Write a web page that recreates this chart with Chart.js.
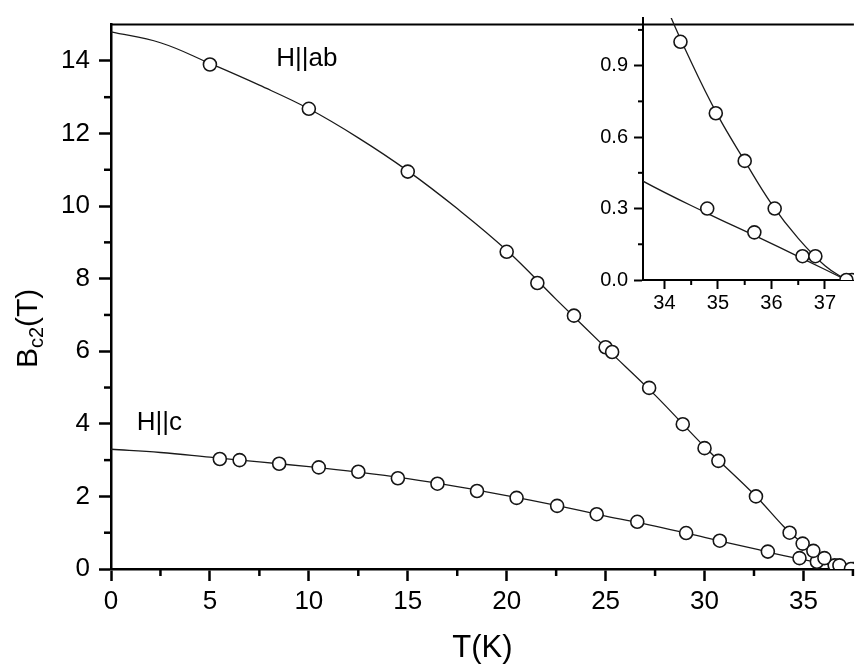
<!DOCTYPE html>
<html><head><meta charset="utf-8">
<script src="https://cdn.jsdelivr.net/npm/chart.js@4/dist/chart.umd.min.js"></script>
<style>
html,body{margin:0;padding:0;background:#fff;}
#wrap{position:relative;width:862px;height:668px;overflow:hidden;background:#fff;}
#main{position:absolute;left:0;top:0;}
#inset{position:absolute;left:560px;top:0;}
</style></head><body>
<div id="wrap"><canvas id="main" width="862" height="668"></canvas><canvas id="inset" width="302" height="330"></canvas></div>
<script>
// ---- data ----
const abT = [5, 10, 15, 20, 21.55, 23.4, 25, 25.33, 27.2, 28.9, 30, 30.7, 32.6, 34.3, 34.96, 35.5, 36.06, 36.82, 37.4];
const abB = [13.9, 12.68, 10.95, 8.74, 7.88, 6.98, 6.11, 5.98, 4.99, 3.99, 3.33, 2.98, 2.0, 1.0, 0.7, 0.5, 0.3, 0.1, 0.0];
const cT = [5.5, 6.5, 8.5, 10.5, 12.5, 14.5, 16.5, 18.5, 20.5, 22.55, 24.55, 26.6, 29.07, 30.77, 33.2, 34.8, 35.68, 36.58, 37.5];
const cB = [3.03, 3.0, 2.9, 2.8, 2.68, 2.5, 2.35, 2.15, 1.96, 1.74, 1.51, 1.3, 0.99, 0.78, 0.48, 0.3, 0.2, 0.1, 0.0];
// fitted curves
const abFitT = [0, 2.5, 5, 7.5, 10, 12.5, 15, 17.5, 20, 22.5, 25, 27.5, 30, 32.5, 34, 34.5, 35, 35.5, 36, 36.5, 37, 37.4];
const abFitB = [14.8, 14.5, 13.93, 13.33, 12.68, 11.88, 10.97, 9.93, 8.78, 7.43, 6.1, 4.79, 3.37, 2.06, 1.17, 0.915, 0.69, 0.5, 0.32, 0.175, 0.06, 0.0];
const cFitT = [0, 2.5, 5, 7.5, 10, 12.5, 15, 17.5, 20, 22.5, 25, 27.5, 30, 32.5, 33.6, 34.8, 35.7, 36.6, 37.4];
const cFitB = [3.3, 3.21, 3.08, 2.95, 2.82, 2.67, 2.49, 2.27, 2.02, 1.75, 1.46, 1.18, 0.87, 0.56, 0.415, 0.28, 0.185, 0.088, 0.0];
// ticks
const xMajor = [0, 5, 10, 15, 20, 25, 30, 35];
const xMinor = [2.5, 7.5, 12.5, 17.5, 22.5, 27.5, 32.5, 37.5];
const yMajor = [0, 2, 4, 6, 8, 10, 12, 14];
const yMinor = [1, 3, 5, 7, 9, 11, 13];
const insetXMajor = [34, 35, 36, 37];
const insetXMinor = [34.5, 35.5, 36.5];
const insetYMajor = [0, 0.3, 0.6, 0.9];
const insetYMinor = [0.15, 0.45, 0.75, 1.05];
// text labels
const labelText = ['H||ab', 'H||c'];
const labelT = [9.9, 2.45];
const labelB = [14.06, 4.03];

const FONT = '"Liberation Sans", Arial, Helvetica, sans-serif';
Chart.defaults.font.family = FONT;
Chart.defaults.color = '#000';

function pts(xs, ys) { return xs.map((x, i) => ({ x: x, y: ys[i] })); }
const markerStyle = { showLine: false, pointRadius: 6.5, pointHoverRadius: 6.5, pointBorderWidth: 1.6,
  pointBackgroundColor: '#fff', pointBorderColor: '#151515', borderColor: '#151515', backgroundColor: '#fff' };
const curveStyle = { showLine: true, pointRadius: 0, pointHoverRadius: 0, borderColor: '#1a1a1a', borderWidth: 1.3,
  cubicInterpolationMode: 'default', tension: 0.4, fill: false };

function makeDatasets() {
  return [
    Object.assign({ label: 'H||ab', data: pts(abT, abB) }, markerStyle),
    Object.assign({ label: 'H||c', data: pts(cT, cB) }, markerStyle),
    Object.assign({ label: 'H||ab fit', data: pts(abFitT, abFitB) }, curveStyle),
    Object.assign({ label: 'H||c fit', data: pts(cFitT, cFitB) }, curveStyle)
  ];
}

const minorTicksPlugin = {
  id: 'minorTicks',
  afterDraw(chart, args, opts) {
    const ctx = chart.ctx;
    ctx.save();
    ctx.strokeStyle = '#000';
    ctx.lineWidth = opts.width;
    const xs = chart.scales.x, ys = chart.scales.y;
    opts.x.forEach(v => {
      const p = xs.getPixelForValue(v);
      ctx.beginPath(); ctx.moveTo(p, xs.top); ctx.lineTo(p, xs.top + opts.len); ctx.stroke();
    });
    opts.y.forEach(v => {
      const p = ys.getPixelForValue(v);
      ctx.beginPath(); ctx.moveTo(ys.right, p); ctx.lineTo(ys.right - opts.len, p); ctx.stroke();
    });
    ctx.restore();
  }
};

const topFramePlugin = {
  id: 'topFrame',
  afterDraw(chart, args, opts) {
    if (!opts.draw) return;
    const a = chart.chartArea, ctx = chart.ctx;
    ctx.save();
    ctx.strokeStyle = '#000';
    ctx.lineWidth = opts.width;
    ctx.beginPath(); ctx.moveTo(a.left - 1, a.top); ctx.lineTo(a.right, a.top); ctx.stroke();
    ctx.restore();
  }
};

const textPlugin = {
  id: 'texts',
  afterDraw(chart, args, opts) {
    if (!opts.draw) return;
    const ctx = chart.ctx, xs = chart.scales.x, ys = chart.scales.y;
    ctx.save();
    ctx.fillStyle = '#000';
    ctx.font = '26px ' + FONT;
    ctx.textAlign = 'center';
    ctx.textBaseline = 'middle';
    labelText.forEach((t, i) => ctx.fillText(t, xs.getPixelForValue(labelT[i]), ys.getPixelForValue(labelB[i])));
    // y axis title B_c2(T)
    const cy = ys.getPixelForValue(6.63);
    const big = '30px ' + FONT, small = '20px ' + FONT;
    ctx.font = big; const wB = ctx.measureText('B').width, wT = ctx.measureText('(T)').width;
    ctx.font = small; const wS = ctx.measureText('c2').width;
    const total = wB + wS + wT;
    ctx.translate(37, cy);
    ctx.rotate(-Math.PI / 2);
    ctx.textAlign = 'left';
    ctx.textBaseline = 'alphabetic';
    let x0 = -total / 2;
    ctx.font = big; ctx.fillText('B', x0, 0); x0 += wB;
    ctx.font = small; ctx.fillText('c2', x0, 6); x0 += wS;
    ctx.font = big; ctx.fillText('(T)', x0, 0);
    ctx.restore();
  }
};

function axis(min, max, major, fit, tickLen, width, fontSize, pad, fmt, title) {
  return {
    type: 'linear', min: min, max: max,
    afterBuildTicks: s => { s.ticks = major.map(v => ({ value: v })); },
    afterFit: fit,
    grid: { drawOnChartArea: false, drawTicks: true, tickLength: tickLen, tickWidth: width, tickColor: '#000', color: '#000' },
    border: { display: true, color: '#000', width: width },
    ticks: { font: { size: fontSize, family: FONT }, color: '#000', padding: pad, autoSkip: false, maxRotation: 0, minRotation: 0, callback: fmt },
    title: title || { display: false }
  };
}

new Chart(document.getElementById('main'), {
  type: 'scatter',
  data: { datasets: makeDatasets() },
  options: {
    responsive: false, animation: false, devicePixelRatio: 1, events: [],
    layout: { padding: { top: 12, right: 0, left: 0, bottom: 0 } },
    plugins: { legend: { display: false }, tooltip: { enabled: false },
      minorTicks: { x: xMinor, y: yMinor, len: 7, width: 2.5 },
      topFrame: { draw: true, width: 2 },
      texts: { draw: true } },
    scales: {
      x: axis(0, 37.55, xMajor, s => { s.height = 99; }, 12, 2.5, 26, 5, v => String(v),
        { display: true, text: 'T(K)', color: '#000', font: { size: 31, family: FONT }, padding: { top: 0, bottom: 1 } }),
      y: axis(0, 15, yMajor, s => { s.width = 111; }, 12, 2.5, 26, 9, v => String(v))
    }
  },
  plugins: [minorTicksPlugin, topFramePlugin, textPlugin]
});

new Chart(document.getElementById('inset'), {
  type: 'scatter',
  data: { datasets: makeDatasets() },
  options: {
    responsive: false, animation: false, devicePixelRatio: 1, events: [],
    layout: { padding: { top: 12, right: 0, left: 0, bottom: 0 } },
    plugins: { legend: { display: false }, tooltip: { enabled: false },
      minorTicks: { x: insetXMinor, y: insetYMinor, len: 5, width: 2 },
      topFrame: { draw: false }, texts: { draw: false } },
    scales: {
      x: axis(33.6, 37.54, insetXMajor, s => { s.height = 50; }, 9, 2, 20, 2, v => String(v)),
      y: axis(0, 1.1, insetYMajor, s => { s.width = 83; }, 9, 2, 20, 6, v => v.toFixed(1))
    }
  },
  plugins: [minorTicksPlugin, topFramePlugin, textPlugin]
});
</script>
</body></html>
